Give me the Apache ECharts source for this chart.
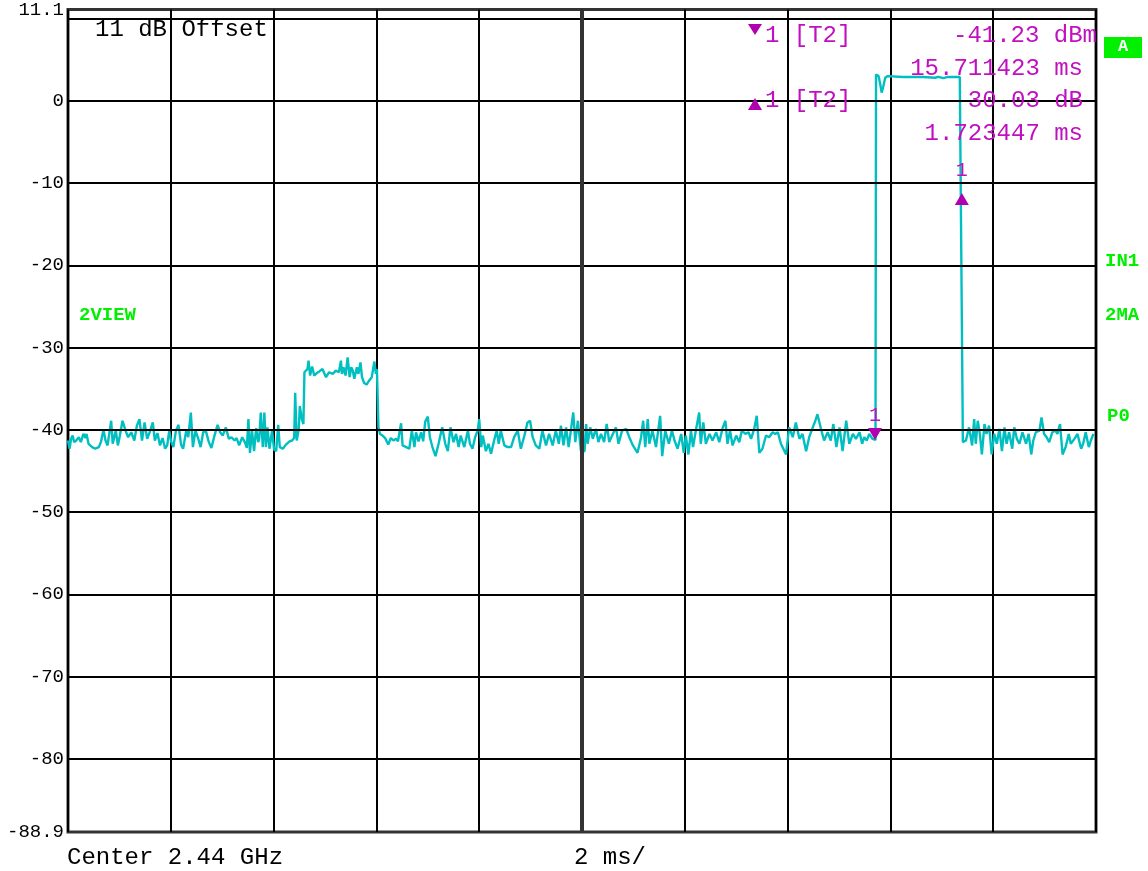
<!DOCTYPE html>
<html>
<head>
<meta charset="utf-8">
<script src="https://cdn.jsdelivr.net/npm/echarts@6/dist/echarts.min.js"></script>
<style>html,body{margin:0;padding:0;background:#fff;}#chart{width:1148px;height:871px;}</style>
</head>
<body>
<div id="chart"></div>
<script>
// ---- data (time in ms, level in dBm) ----
const yTickLabels = [11.1, 0, -10, -20, -30, -40, -50, -60, -70, -80, -88.9];
const yGridLevels = [10, 0, -10, -20, -30, -40, -50, -60, -70, -80];
const timeRange = [0, 20];
const levelRange = [-88.9, 11.1];

const noiseBefore = [[0.00,-41.3],[0.03,-42.3],[0.06,-41.1],[0.09,-40.7],[0.12,-41.5],[0.16,-41.3],[0.21,-40.9],[0.25,-41.5],[0.30,-40.5],[0.34,-41.0],[0.36,-40.5],[0.40,-41.7],[0.47,-42.1],[0.53,-42.3],[0.60,-42.1],[0.64,-41.5],[0.69,-40.0],[0.73,-41.3],[0.77,-41.9],[0.84,-38.9],[0.87,-41.7],[0.93,-40.1],[0.97,-41.9],[1.01,-40.7],[1.06,-38.9],[1.12,-40.1],[1.17,-40.9],[1.23,-40.3],[1.29,-41.3],[1.34,-39.5],[1.39,-38.7],[1.44,-41.3],[1.49,-39.1],[1.54,-41.1],[1.60,-40.1],[1.65,-39.1],[1.69,-41.3],[1.74,-40.4],[1.79,-41.9],[1.84,-41.0],[1.89,-42.3],[1.93,-41.9],[1.97,-40.1],[2.01,-41.5],[2.05,-42.1],[2.10,-40.1],[2.15,-39.4],[2.20,-41.8],[2.24,-42.3],[2.30,-40.1],[2.34,-40.9],[2.39,-37.9],[2.43,-42.1],[2.48,-40.1],[2.53,-41.0],[2.58,-42.1],[2.63,-40.3],[2.68,-40.1],[2.74,-41.5],[2.79,-42.2],[2.85,-40.7],[2.91,-39.4],[2.96,-40.3],[3.01,-40.7],[3.07,-39.7],[3.13,-41.1],[3.18,-40.9],[3.24,-41.3],[3.28,-41.0],[3.33,-41.9],[3.39,-40.9],[3.44,-41.5],[3.48,-42.2],[3.51,-38.7],[3.54,-42.8],[3.58,-40.1],[3.62,-42.6],[3.66,-39.8],[3.70,-41.5],[3.72,-41.1],[3.75,-37.9],[3.79,-42.1],[3.82,-37.9],[3.85,-42.1],[3.88,-39.7],[3.92,-42.3],[3.97,-40.1],[4.01,-42.4],[4.05,-42.6],[4.09,-39.4],[4.12,-42.1],[4.18,-42.3],[4.24,-41.8],[4.31,-41.4],[4.36,-41.3],[4.40,-41.0]];

const burstWeak = [[4.42,-35.5],[4.45,-41.3],[4.49,-39.9],[4.51,-37.1],[4.55,-38.7],[4.58,-39.3],[4.60,-33.0],[4.63,-33.1],[4.66,-32.6],[4.68,-31.6],[4.71,-33.4],[4.75,-32.3],[4.79,-33.4],[4.84,-33.1],[4.89,-32.9],[4.95,-32.6],[5.02,-33.6],[5.08,-33.0],[5.15,-33.2],[5.21,-32.8],[5.27,-33.0],[5.31,-31.6],[5.33,-33.2],[5.36,-32.4],[5.40,-33.4],[5.44,-31.2],[5.48,-33.6],[5.51,-32.4],[5.54,-32.8],[5.57,-33.8],[5.62,-32.4],[5.65,-33.2],[5.69,-31.8],[5.72,-33.6],[5.76,-34.3],[5.81,-34.5],[5.86,-34.0],[5.91,-33.6],[5.96,-31.7],[5.99,-33.2],[6.01,-32.6],[6.04,-39.7]];

const noiseMiddle = [[6.07,-40.5],[6.12,-40.7],[6.17,-41.0],[6.23,-41.8],[6.28,-41.0],[6.33,-41.3],[6.38,-41.1],[6.42,-41.4],[6.48,-39.2],[6.51,-41.9],[6.58,-42.1],[6.64,-42.3],[6.69,-40.1],[6.74,-42.1],[6.77,-40.3],[6.82,-41.4],[6.87,-40.3],[6.91,-41.4],[6.95,-39.0],[7.00,-38.4],[7.04,-40.9],[7.09,-42.1],[7.15,-43.2],[7.21,-41.7],[7.28,-39.7],[7.34,-41.7],[7.39,-42.6],[7.44,-39.7],[7.50,-41.5],[7.55,-40.5],[7.60,-42.1],[7.64,-40.7],[7.71,-42.1],[7.78,-40.1],[7.82,-41.7],[7.87,-42.3],[7.92,-40.9],[7.97,-40.1],[8.00,-38.7],[8.04,-42.1],[8.07,-40.7],[8.13,-42.6],[8.18,-41.7],[8.23,-42.9],[8.29,-41.3],[8.34,-40.1],[8.38,-41.7],[8.42,-40.1],[8.49,-41.9],[8.55,-42.1],[8.62,-42.1],[8.68,-40.9],[8.75,-40.1],[8.81,-42.3],[8.88,-40.7],[8.94,-39.1],[8.99,-38.9],[9.04,-40.9],[9.10,-41.9],[9.17,-42.3],[9.23,-40.1],[9.30,-41.9],[9.36,-40.5],[9.43,-41.9],[9.49,-40.1],[9.55,-41.7],[9.59,-39.5],[9.64,-41.9],[9.69,-39.7],[9.74,-42.1],[9.80,-39.3],[9.83,-37.9],[9.87,-41.5],[9.92,-38.9],[9.98,-42.6],[10.05,-42.6],[10.08,-39.3],[10.11,-41.7],[10.16,-39.7],[10.21,-41.1],[10.27,-39.9],[10.32,-41.5],[10.37,-40.5],[10.43,-41.5],[10.48,-39.3],[10.53,-41.5],[10.60,-40.5],[10.66,-39.7],[10.71,-41.7],[10.78,-40.1],[10.86,-39.9],[10.92,-40.9],[10.99,-41.9],[11.08,-42.8],[11.15,-40.9],[11.19,-38.9],[11.23,-42.1],[11.28,-38.7],[11.31,-41.7],[11.37,-40.1],[11.44,-42.1],[11.52,-38.3],[11.56,-43.2],[11.62,-40.1],[11.69,-41.7],[11.75,-40.1],[11.80,-41.3],[11.86,-42.3],[11.93,-40.5],[11.98,-42.8],[12.02,-40.7],[12.07,-43.0],[12.12,-40.1],[12.16,-42.1],[12.22,-39.9],[12.28,-37.9],[12.31,-41.7],[12.36,-39.1],[12.41,-41.7],[12.48,-40.5],[12.54,-41.3],[12.61,-40.3],[12.67,-41.5],[12.74,-39.7],[12.79,-38.9],[12.83,-41.7],[12.88,-40.1],[12.93,-41.9],[13.00,-40.7],[13.06,-41.5],[13.11,-40.1],[13.18,-40.5],[13.24,-40.3],[13.29,-41.1],[13.35,-39.9],[13.40,-38.3],[13.45,-42.8],[13.51,-42.3],[13.58,-40.7],[13.64,-40.9],[13.71,-40.3],[13.76,-40.5],[13.81,-40.3],[13.87,-41.7],[13.97,-43.0],[14.03,-39.7],[14.10,-40.9],[14.16,-39.1],[14.23,-41.1],[14.29,-40.5],[14.36,-42.6],[14.42,-40.9],[14.49,-39.7],[14.54,-38.9],[14.58,-38.1],[14.65,-39.9],[14.71,-41.3],[14.78,-40.3],[14.84,-41.3],[14.89,-39.3],[14.95,-42.1],[15.01,-39.7],[15.07,-42.6],[15.14,-38.9],[15.20,-41.7],[15.27,-40.5],[15.33,-41.1],[15.40,-40.3],[15.45,-41.7],[15.49,-40.9],[15.54,-41.3],[15.59,-40.5],[15.65,-41.1],[15.71,-41.23]];

const burstStrong = [[15.72,3.2],[15.77,3.0],[15.80,2.1],[15.83,1.0],[15.86,1.7],[15.90,2.8],[15.94,3.0],[16.25,2.9],[16.64,2.9],[16.87,2.8],[16.93,2.9],[17.03,2.75],[17.12,2.9],[17.35,2.9]];

const noiseAfter = [[17.41,-41.5],[17.47,-41.3],[17.53,-39.7],[17.59,-41.9],[17.63,-38.7],[17.66,-41.7],[17.70,-38.9],[17.74,-40.5],[17.78,-43.0],[17.83,-39.3],[17.87,-40.5],[17.92,-39.5],[17.97,-43.0],[18.02,-40.5],[18.07,-41.7],[18.12,-39.9],[18.17,-42.6],[18.22,-39.7],[18.26,-41.7],[18.31,-40.3],[18.37,-42.3],[18.41,-39.7],[18.46,-41.1],[18.51,-41.7],[18.57,-40.3],[18.64,-41.7],[18.69,-40.5],[18.74,-43.0],[18.78,-41.3],[18.83,-40.3],[18.90,-40.1],[18.94,-38.5],[18.99,-40.5],[19.04,-40.9],[19.09,-41.5],[19.15,-40.3],[19.21,-40.1],[19.25,-40.5],[19.30,-39.3],[19.35,-43.0],[19.41,-42.1],[19.47,-40.5],[19.51,-41.7],[19.58,-41.1],[19.64,-40.5],[19.71,-42.3],[19.75,-41.7],[19.80,-40.3],[19.86,-42.1],[19.90,-41.3],[19.95,-40.5]];

const marker1 = [15.70, -41.23];
const deltaMarker1 = [17.39, -11.2];
const markerLabel = '1';
const readoutHeader = '1 [T2]';
const readoutMarker = ['-41.23 dBm', '15.711423 ms'];
const readoutDelta = ['30.03 dB', '1.723447 ms'];
const offsetText = '11 dB Offset';
const footerLeft = 'Center 2.44 GHz';
const footerMid = '2 ms/';
const sideLabels = ['IN1', '2MA', 'P0'];
const leftLabel = '2VIEW';
const traceTag = 'A';

// ---- chart ----
const trace = [].concat(noiseBefore, burstWeak, noiseMiddle, burstStrong, noiseAfter);
const MONO = "'Liberation Mono', 'DejaVu Sans Mono', monospace";
const MAG = '#b000b0';
const MAGTXT = '#c010c0';
const GREEN = '#00f000';

const chart = echarts.init(document.getElementById('chart'), null, {renderer: 'canvas'});

const option = {
  animation: false,
  backgroundColor: '#ffffff',
  grid: {left: 68, right: 52, top: 8, bottom: 39, show: true, borderColor: '#333', borderWidth: 3, backgroundColor: 'transparent'},
  xAxis: {
    type: 'value', min: timeRange[0], max: timeRange[1], interval: 2,
    axisLine: {show: false}, axisTick: {show: false}, axisLabel: {show: false},
    splitLine: {show: true, lineStyle: {color: '#000', width: 2}}
  },
  yAxis: {
    type: 'value', min: levelRange[0], max: levelRange[1],
    axisLine: {show: false}, axisTick: {show: false}, splitLine: {show: false},
    axisLabel: {
      customValues: yTickLabels,
      formatter: v => String(Math.round(v * 10) / 10),
      color: '#000', fontFamily: MONO, fontSize: 19, margin: 4
    }
  },
  series: [
    {
      type: 'line', data: [], z: 1, silent: true,
      markLine: {
        silent: true, symbol: 'none', label: {show: false}, animation: false,
        lineStyle: {color: '#000', width: 2, type: 'solid'},
        data: yGridLevels.map(v => ({yAxis: v})).concat([{xAxis: 10, lineStyle: {color: '#333', width: 4, type: 'solid'}}])
      }
    },
    {
      type: 'line', data: trace, z: 3, showSymbol: false, symbol: 'none', silent: true,
      lineStyle: {color: '#00bfc0', width: 2.4}
    },
    {
      type: 'scatter', data: [marker1], z: 5, symbol: 'triangle', symbolRotate: 180,
      symbolSize: [14, 12], symbolOffset: [0, -6], itemStyle: {color: MAG, opacity: 1},
      label: {show: true, formatter: markerLabel, position: 'top', distance: 2, color: MAGTXT, textBorderWidth: 0, fontFamily: MONO, fontSize: 20}
    },
    {
      type: 'scatter', data: [deltaMarker1], z: 5, symbol: 'triangle',
      symbolSize: [14, 12], symbolOffset: [0, 6], itemStyle: {color: MAG, opacity: 1},
      label: {show: true, formatter: markerLabel, position: 'top', distance: 12, color: MAGTXT, textBorderWidth: 0, fontFamily: MONO, fontSize: 20}
    }
  ],
  graphic: [
    {type: 'text', x: 95, y: 30, z: 10, style: {text: offsetText, font: '24px ' + MONO, fill: '#000', textAlign: 'left', textVerticalAlign: 'middle'}},
    {type: 'polygon', z: 10, shape: {points: [[748, 24], [762, 24], [755, 35]]}, style: {fill: MAG}},
    {type: 'text', x: 765, y: 36, z: 10, style: {text: readoutHeader, font: '24px ' + MONO, fill: MAGTXT, textAlign: 'left', textVerticalAlign: 'middle'}},
    {type: 'text', x: 1097, y: 36, z: 10, style: {text: readoutMarker[0], font: '24px ' + MONO, fill: MAGTXT, textAlign: 'right', textVerticalAlign: 'middle'}},
    {type: 'text', x: 1083, y: 69, z: 10, style: {text: readoutMarker[1], font: '24px ' + MONO, fill: MAGTXT, textAlign: 'right', textVerticalAlign: 'middle'}},
    {type: 'polygon', z: 10, shape: {points: [[748, 110], [762, 110], [755, 98]]}, style: {fill: MAG}},
    {type: 'text', x: 765, y: 101, z: 10, style: {text: readoutHeader, font: '24px ' + MONO, fill: MAGTXT, textAlign: 'left', textVerticalAlign: 'middle'}},
    {type: 'text', x: 1083, y: 101, z: 10, style: {text: readoutDelta[0], font: '24px ' + MONO, fill: MAGTXT, textAlign: 'right', textVerticalAlign: 'middle'}},
    {type: 'text', x: 1083, y: 134, z: 10, style: {text: readoutDelta[1], font: '24px ' + MONO, fill: MAGTXT, textAlign: 'right', textVerticalAlign: 'middle'}},
    {type: 'rect', z: 10, shape: {x: 1104, y: 37, width: 38, height: 21}, style: {fill: GREEN}},
    {type: 'text', x: 1123, y: 47, z: 11, style: {text: traceTag, font: 'bold 17px ' + MONO, fill: '#fff', textAlign: 'center', textVerticalAlign: 'middle'}},
    {type: 'text', x: 1105, y: 261, z: 10, style: {text: sideLabels[0], font: 'bold 19px ' + MONO, fill: GREEN, textAlign: 'left', textVerticalAlign: 'middle'}},
    {type: 'text', x: 1105, y: 315, z: 10, style: {text: sideLabels[1], font: 'bold 19px ' + MONO, fill: GREEN, textAlign: 'left', textVerticalAlign: 'middle'}},
    {type: 'text', x: 1107, y: 416, z: 10, style: {text: sideLabels[2], font: 'bold 19px ' + MONO, fill: GREEN, textAlign: 'left', textVerticalAlign: 'middle'}},
    {type: 'text', x: 79, y: 315, z: 10, style: {text: leftLabel, font: 'bold 19px ' + MONO, fill: GREEN, textAlign: 'left', textVerticalAlign: 'middle'}},
    {type: 'text', x: 67, y: 858, z: 10, style: {text: footerLeft, font: '24px ' + MONO, fill: '#000', textAlign: 'left', textVerticalAlign: 'middle'}},
    {type: 'text', x: 574, y: 858, z: 10, style: {text: footerMid, font: '24px ' + MONO, fill: '#000', textAlign: 'left', textVerticalAlign: 'middle'}}
  ]
};
chart.setOption(option);
</script>
</body>
</html>
